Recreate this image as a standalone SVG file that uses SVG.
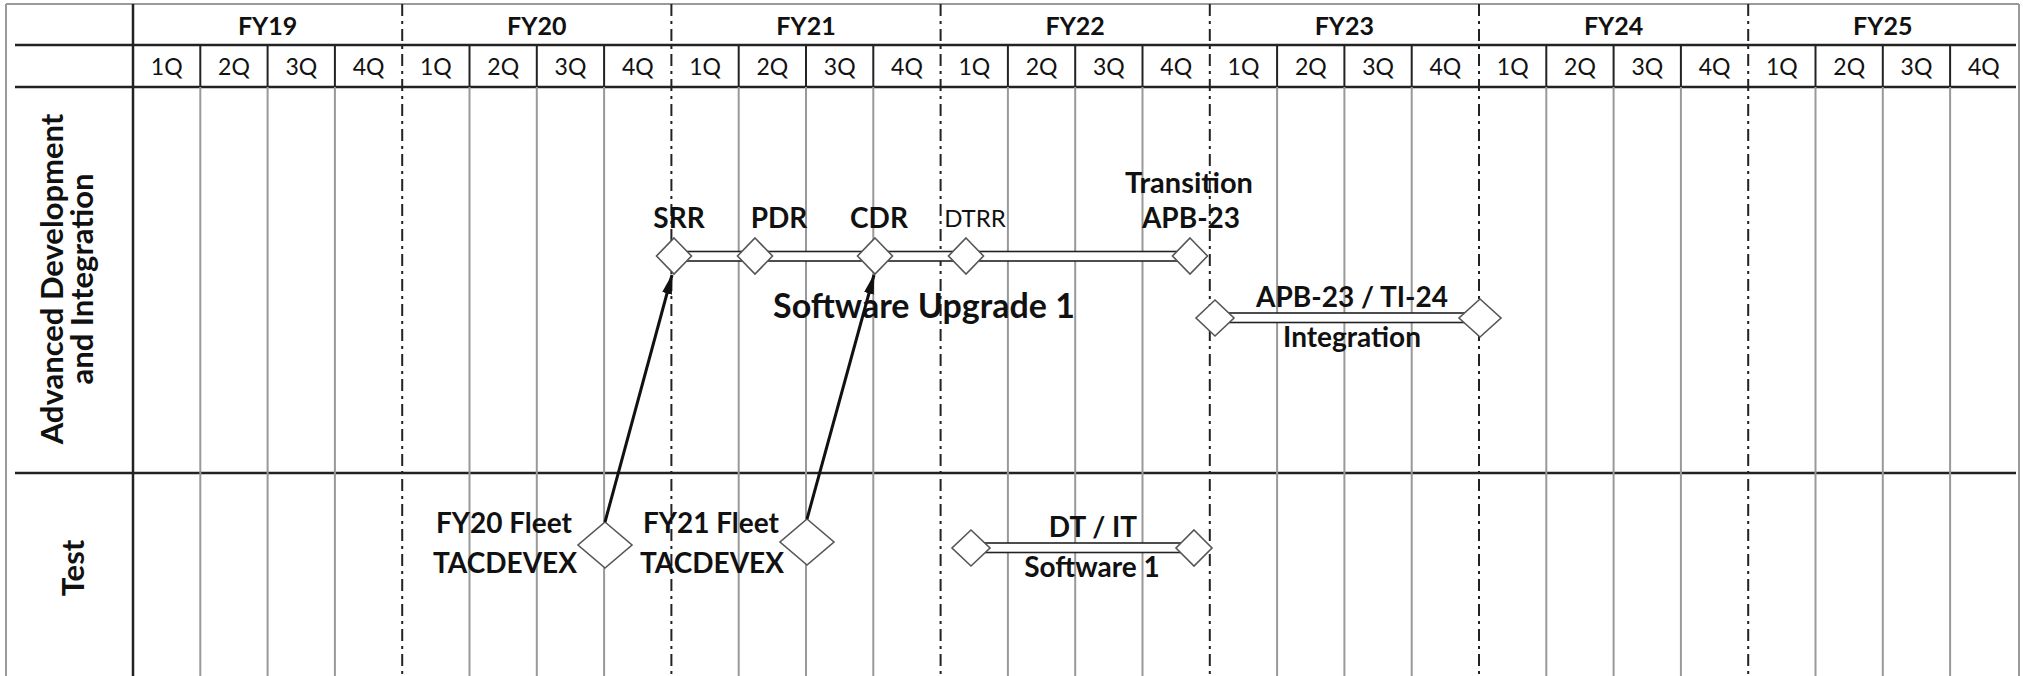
<svg xmlns="http://www.w3.org/2000/svg" width="2023" height="676" viewBox="0 0 2023 676">
  <style>
    .frame { stroke: #9a9a9a; stroke-width: 2; fill: none; }
    .rule { stroke: #222; stroke-width: 2.5; fill: none; }
    .qhead { stroke: #222; stroke-width: 2; fill: none; }
    .qbody { stroke: #999; stroke-width: 2; fill: none; }
    .fy { stroke: #222; stroke-width: 2; fill: none; stroke-dasharray: 12 5 3 5; }
    .bar { fill: #fff; stroke: #222; stroke-width: 1.6; }
    .ms { fill: #fff; stroke: #555; stroke-width: 1.6; }
    .arrow { stroke: #111; stroke-width: 3; fill: none; }
    text { font-family: Lato, "Liberation Sans", sans-serif; fill: #111; text-anchor: middle; }
    .fyl { font-size: 25px; font-weight: bold; }
    .ql { font-size: 23px; }
    .lane { font-size: 31px; font-weight: bold; }
    .lbl { font-size: 28px; font-weight: bold; }
    .big { font-size: 34px; font-weight: bold; }
    .small { font-size: 24px; }
  </style>
  <defs>
    <marker id="head" markerUnits="userSpaceOnUse" markerWidth="20" markerHeight="10" refX="19" refY="5" orient="auto">
      <path d="M0,0 L20,5 L0,10 z" fill="#111"/>
    </marker>
  </defs>

  <rect width="2023" height="676" fill="#fff"/>

  <!-- grid -->
  <g id="grid">
    <path class="frame" d="M6,4 V676 M6,4 H2019 M2019,4 V676"/>
    <path class="rule" d="M15,45 H2016 M15,87 H2016 M15,473 H2016"/>
    <path class="rule" d="M133,4 V676"/>
    <!-- quarter separators in the header row -->
    <path class="qhead" d="M200.3,45 V87 M267.6,45 V87 M334.9,45 V87 M469.5,45 V87 M536.8,45 V87 M604.1,45 V87 M738.7,45 V87 M806,45 V87 M873.3,45 V87 M1007.9,45 V87 M1075.2,45 V87 M1142.5,45 V87 M1277.1,45 V87 M1344.4,45 V87 M1411.7,45 V87 M1546.3,45 V87 M1613.6,45 V87 M1680.9,45 V87 M1815.5,45 V87 M1882.8,45 V87 M1950.1,45 V87"/>
    <!-- quarter separators in the body -->
    <path class="qbody" d="M200.3,87 V676 M267.6,87 V676 M334.9,87 V676 M469.5,87 V676 M536.8,87 V676 M604.1,87 V676 M738.7,87 V676 M806,87 V676 M873.3,87 V676 M1007.9,87 V676 M1075.2,87 V676 M1142.5,87 V676 M1277.1,87 V676 M1344.4,87 V676 M1411.7,87 V676 M1546.3,87 V676 M1613.6,87 V676 M1680.9,87 V676 M1815.5,87 V676 M1882.8,87 V676 M1950.1,87 V676"/>
    <!-- fiscal year boundaries -->
    <path class="fy" d="M402.2,4 V676 M671.4,4 V676 M940.6,4 V676 M1209.8,4 V676 M1479,4 V676 M1748.2,4 V676"/>
  </g>

  <!-- header labels -->
  <g id="header">
    <text class="fyl" x="267.6" y="35">FY19</text>
    <text class="fyl" x="536.8" y="35">FY20</text>
    <text class="fyl" x="806" y="35">FY21</text>
    <text class="fyl" x="1075.2" y="35">FY22</text>
    <text class="fyl" x="1344.4" y="35">FY23</text>
    <text class="fyl" x="1613.6" y="35">FY24</text>
    <text class="fyl" x="1882.8" y="35">FY25</text>

    <text class="ql" x="166.7" y="75">1Q</text>
    <text class="ql" x="234" y="75">2Q</text>
    <text class="ql" x="301.3" y="75">3Q</text>
    <text class="ql" x="368.6" y="75">4Q</text>
    <text class="ql" x="435.9" y="75">1Q</text>
    <text class="ql" x="503.2" y="75">2Q</text>
    <text class="ql" x="570.5" y="75">3Q</text>
    <text class="ql" x="637.8" y="75">4Q</text>
    <text class="ql" x="705.1" y="75">1Q</text>
    <text class="ql" x="772.4" y="75">2Q</text>
    <text class="ql" x="839.7" y="75">3Q</text>
    <text class="ql" x="907" y="75">4Q</text>
    <text class="ql" x="974.3" y="75">1Q</text>
    <text class="ql" x="1041.6" y="75">2Q</text>
    <text class="ql" x="1108.9" y="75">3Q</text>
    <text class="ql" x="1176.2" y="75">4Q</text>
    <text class="ql" x="1243.5" y="75">1Q</text>
    <text class="ql" x="1310.8" y="75">2Q</text>
    <text class="ql" x="1378.1" y="75">3Q</text>
    <text class="ql" x="1445.4" y="75">4Q</text>
    <text class="ql" x="1512.7" y="75">1Q</text>
    <text class="ql" x="1580" y="75">2Q</text>
    <text class="ql" x="1647.3" y="75">3Q</text>
    <text class="ql" x="1714.6" y="75">4Q</text>
    <text class="ql" x="1781.9" y="75">1Q</text>
    <text class="ql" x="1849.2" y="75">2Q</text>
    <text class="ql" x="1916.5" y="75">3Q</text>
    <text class="ql" x="1983.8" y="75">4Q</text>
  </g>

  <!-- swim lane titles -->
  <g id="lane-adi">
    <text class="lane" transform="translate(63,279) rotate(-90)">Advanced Development</text>
    <text class="lane" transform="translate(93,279) rotate(-90)">and Integration</text>
  </g>
  <g id="lane-test">
    <text class="lane" transform="translate(84,568) rotate(-90)">Test</text>
  </g>

  <!-- Software Upgrade 1 activity -->
  <g id="software-upgrade-1">
    <rect class="bar" x="674" y="251.5" width="516" height="9.5"/>
    <text class="big" x="924" y="318">Software Upgrade 1</text>
  </g>
  <g id="srr">
    <polygon class="ms" points="674,238 691.5,256 674,274 656.5,256"/>
    <text class="lbl" x="679" y="228">SRR</text>
  </g>
  <g id="pdr">
    <polygon class="ms" points="755,238 772.5,256 755,274 737.5,256"/>
    <text class="lbl" x="779" y="228">PDR</text>
  </g>
  <g id="cdr">
    <polygon class="ms" points="875,238 892.5,256 875,274 857.5,256"/>
    <text class="lbl" x="879" y="228">CDR</text>
  </g>
  <g id="dtrr">
    <polygon class="ms" points="966,238 983.5,256 966,274 948.5,256"/>
    <text class="small" x="975" y="227">DTRR</text>
  </g>
  <g id="transition">
    <polygon class="ms" points="1190,238 1207.5,256 1190,274 1172.5,256"/>
    <text class="lbl" x="1189" y="193" style="font-size:29px">Transition</text>
    <text class="lbl" x="1191" y="228">APB-23</text>
  </g>

  <!-- APB-23 / TI-24 integration activity -->
  <g id="apb-integration">
    <rect class="bar" x="1215" y="313" width="265" height="9.5"/>
    <polygon class="ms" points="1215,300 1234,318 1215,336 1196,318"/>
    <polygon class="ms" points="1480,299 1501,318 1480,337 1459,318"/>
    <text class="lbl" x="1352" y="307">APB-23 / TI-24</text>
    <text class="lbl" x="1352" y="347">Integration</text>
  </g>

  <!-- test events -->
  <g id="fy20-fleet">
    <polygon class="ms" points="605,522 632,545 605,568 578,545"/>
    <text class="lbl" x="504" y="533">FY20 Fleet</text>
    <text class="lbl" x="505" y="573">TACDEVEX</text>
  </g>
  <g id="fy21-fleet">
    <polygon class="ms" points="807,519 834,542 807,565 780,542"/>
    <text class="lbl" x="711" y="533">FY21 Fleet</text>
    <text class="lbl" x="712" y="573">TACDEVEX</text>
  </g>
  <g id="dt-it">
    <rect class="bar" x="971" y="543" width="223" height="9.5"/>
    <polygon class="ms" points="971,530 990,548 971,566 952,548"/>
    <polygon class="ms" points="1194,530 1212,548 1194,566 1176,548"/>
    <text class="lbl" x="1093" y="537">DT / IT</text>
    <text class="lbl" x="1092" y="577">Software 1</text>
  </g>

  <!-- dependencies -->
  <g id="connectors">
    <line class="arrow" x1="605" y1="522" x2="672" y2="275" marker-end="url(#head)"/>
    <line class="arrow" x1="807" y1="519" x2="874" y2="275" marker-end="url(#head)"/>
  </g>
</svg>
